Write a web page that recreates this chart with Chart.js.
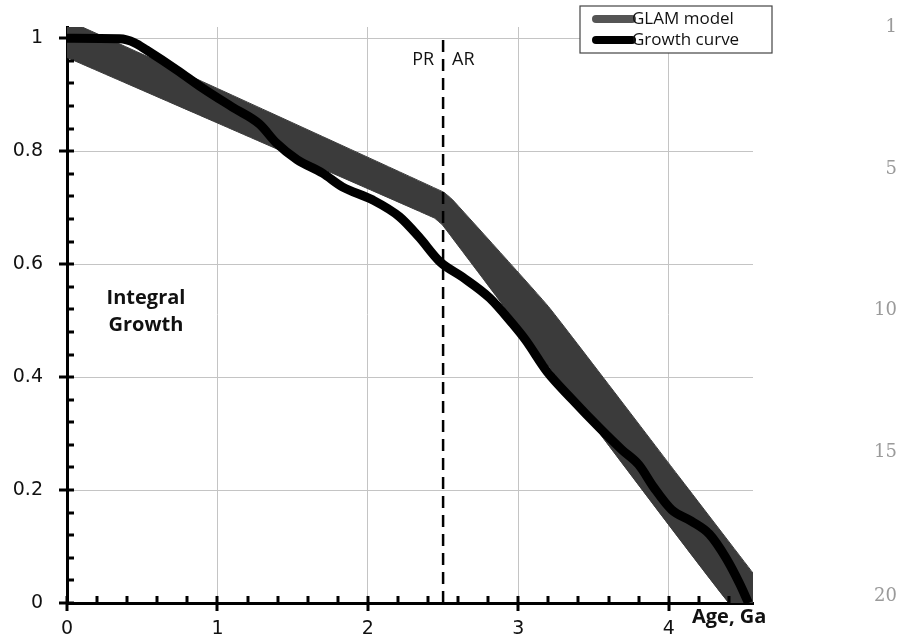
<!DOCTYPE html>
<html>
<head>
<meta charset="utf-8">
<script src="https://cdn.jsdelivr.net/npm/chart.js@4.4.1/dist/chart.umd.min.js"></script>
<style>
  html, body { margin: 0; padding: 0; background: #fff; }
  #wrap { width: 922px; height: 638px; }
  canvas { display: block; }
</style>
</head>
<body>
<div id="wrap"><canvas id="growthChart"></canvas></div>
<script>
// growth curve (age in Ga, integral growth)
const growthAge   = [0, 0.35, 0.45, 0.53, 0.73, 0.9, 1.1, 1.28, 1.39, 1.53, 1.7, 1.83, 2.03, 2.21, 2.34, 2.48, 2.63, 2.81, 2.96, 3.05, 3.19, 3.36, 3.54, 3.69, 3.8, 3.9, 4.02, 4.15, 4.27, 4.38, 4.47, 4.53];
const growthValue = [1.0, 0.999, 0.992, 0.979, 0.944, 0.912, 0.878, 0.848, 0.815, 0.785, 0.761, 0.737, 0.714, 0.684, 0.648, 0.604, 0.577, 0.540, 0.495, 0.465, 0.41, 0.36, 0.31, 0.271, 0.245, 0.205, 0.165, 0.145, 0.122, 0.08, 0.035, 0.0];

// GLAM model band edges
const glamUpperAge   = [0, 0.1, 2.5, 2.56, 3.2, 4.07, 4.56];
const glamUpperValue = [1.02, 1.02, 0.728, 0.715, 0.525, 0.223, 0.053];
const glamLowerAge   = [0, 1.0, 2.44, 2.5, 4.40, 4.56];
const glamLowerValue = [0.966, 0.85, 0.682, 0.668, 0.0, 0.0];

// PR / AR boundary
const boundaryAge = 2.5;
const boundaryValue = [0, 1.0];

const xTicks = [0, 1, 2, 3, 4];
const yTicks = [0, 0.2, 0.4, 0.6, 0.8, 1];
const xMinorStep = 0.2;
const yMinorStep = 0.04;
const lineNumbers = ['1', '5', '10', '15', '20'];

const toPoints = (xs, ys) => xs.map((x, i) => ({ x: x, y: ys[i] }));

const bandColor = '#3b3b3b';
const textFont = '"Open Sans", "DejaVu Sans", sans-serif';
const tickFont = '"DejaVu Sans", sans-serif';

const decorPlugin = {
  id: 'decor',
  afterDraw(chart) {
    const ctx = chart.ctx;
    const xs = chart.scales.x;
    const ys = chart.scales.y;
    const x0 = xs.getPixelForValue(0);
    const y0 = ys.getPixelForValue(0);
    ctx.save();
    ctx.strokeStyle = '#000';
    ctx.lineWidth = 3;
    // y ticks
    for (let v = 0; v <= 1.0001; v += yMinorStep) {
      const py = Math.round(ys.getPixelForValue(v));
      const major = yTicks.some(t => Math.abs(t - v) < 1e-6);
      ctx.beginPath();
      ctx.moveTo(major ? x0 - 8 : x0, py);
      ctx.lineTo(x0 + 7, py);
      ctx.stroke();
    }
    // x ticks
    for (let v = 0; v <= 4.5001; v += xMinorStep) {
      const px = Math.round(xs.getPixelForValue(v));
      const major = xTicks.some(t => Math.abs(t - v) < 1e-6);
      ctx.beginPath();
      ctx.moveTo(px, major ? y0 + 8 : y0);
      ctx.lineTo(px, y0 - 7);
      ctx.stroke();
    }

    // PR / AR labels
    const bx = xs.getPixelForValue(boundaryAge);
    ctx.fillStyle = '#111';
    ctx.font = '18px ' + textFont;
    ctx.textBaseline = 'middle';
    ctx.textAlign = 'right';
    ctx.fillText('PR', bx - 9, 60);
    ctx.textAlign = 'left';
    ctx.fillText('AR', bx + 9, 60);

    // panel label
    ctx.font = 'bold 20px ' + textFont;
    ctx.textAlign = 'center';
    ctx.fillText('Integral', 146, 298);
    ctx.fillText('Growth', 146, 325);

    // axis title
    ctx.textAlign = 'left';
    ctx.fillText('Age, Ga', 692, 617);

    // legend
    const lx = 580, ly = 6, lw = 192, lh = 47;
    ctx.fillStyle = '#fff';
    ctx.fillRect(lx, ly, lw, lh);
    ctx.strokeStyle = '#444';
    ctx.lineWidth = 1.2;
    ctx.strokeRect(lx, ly, lw, lh);
    ctx.lineCap = 'round';
    ctx.lineWidth = 8;
    ctx.strokeStyle = '#555';
    ctx.beginPath(); ctx.moveTo(596, 19); ctx.lineTo(632, 19); ctx.stroke();
    ctx.strokeStyle = '#000';
    ctx.beginPath(); ctx.moveTo(596, 40); ctx.lineTo(632, 40); ctx.stroke();
    ctx.fillStyle = '#111';
    ctx.font = '17px ' + textFont;
    ctx.textAlign = 'left';
    ctx.fillText('GLAM model', 632, 19);
    ctx.fillText('Growth curve', 632, 40);

    // manuscript line numbers
    ctx.fillStyle = '#9a9a9a';
    ctx.font = '18px "DejaVu Serif", "Liberation Serif", serif';
    ctx.textAlign = 'right';
    const numY = [27, 169, 310, 452, 596];
    lineNumbers.forEach((t, i) => ctx.fillText(t, 897, numY[i]));
    ctx.restore();
  }
};

const data = {
  datasets: [
    {
      label: 'Growth curve',
      data: toPoints(growthAge, growthValue),
      borderColor: '#000',
      borderWidth: 9,
      pointRadius: 0,
      cubicInterpolationMode: 'monotone',
      fill: false,
      borderCapStyle: 'butt',
      borderJoinStyle: 'round',
      order: 0
    },
    {
      label: 'PR/AR',
      data: boundaryValue.map(v => ({ x: boundaryAge, y: v })),
      borderColor: '#000',
      borderWidth: 2.5,
      borderDash: [12, 7],
      pointRadius: 0,
      fill: false,
      order: 1
    },
    {
      label: 'GLAM model',
      data: toPoints(glamUpperAge, glamUpperValue),
      borderColor: bandColor,
      backgroundColor: bandColor,
      borderWidth: 1,
      pointRadius: 0,
      tension: 0.1,
      fill: '+1',
      order: 2
    },
    {
      label: 'GLAM lower',
      data: toPoints(glamLowerAge, glamLowerValue),
      borderColor: bandColor,
      borderWidth: 1,
      pointRadius: 0,
      tension: 0.1,
      fill: false,
      order: 3
    }
  ]
};

const config = {
  type: 'line',
  data,
  options: {
    responsive: false,
    animation: false,
    layout: { padding: { top: 27, right: 169, left: 0, bottom: 0 } },
    plugins: {
      legend: { display: false },
      tooltip: { enabled: false },
      title: { display: false }
    },
    scales: {
      x: {
        type: 'linear',
        min: 0,
        max: 4.56,
        afterBuildTicks: s => { s.ticks = xTicks.map(v => ({ value: v })); },
        afterFit: s => { s.height = 35; },
        grid: { color: '#c4c4c4', lineWidth: 1, drawTicks: false },
        border: { display: true, color: '#000', width: 3 },
        ticks: {
          padding: 15,
          color: '#111',
          font: { family: tickFont, size: 19 },
          callback: v => String(v)
        }
      },
      y: {
        type: 'linear',
        min: 0,
        max: 1.02,
        afterBuildTicks: s => { s.ticks = yTicks.map(v => ({ value: v })); },
        afterFit: s => { s.width = 67; s.paddingTop = 0; s.paddingBottom = 0; },
        grid: { color: '#c4c4c4', lineWidth: 1, drawTicks: false },
        border: { display: true, color: '#000', width: 3 },
        ticks: {
          padding: 24,
          color: '#111',
          font: { family: tickFont, size: 19 },
          callback: v => String(+v.toFixed(1))
        }
      }
    }
  },
  plugins: [decorPlugin]
};

const canvas = document.getElementById('growthChart');
canvas.width = 922;
canvas.height = 638;
const growthChart = new Chart(canvas, config);
</script>
</body>
</html>
